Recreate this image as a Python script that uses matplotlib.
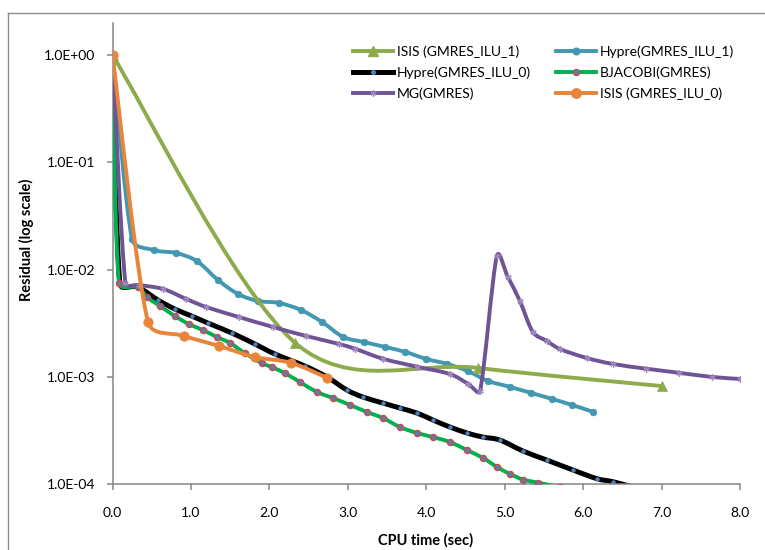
import numpy as np
import matplotlib
matplotlib.use("Agg")
import matplotlib.pyplot as plt
from matplotlib.path import Path
from matplotlib.patches import PathPatch
from matplotlib.lines import Line2D
from matplotlib.ticker import FixedLocator, FixedFormatter

plt.rcParams['font.family'] = ['Lato', 'DejaVu Sans']

# ---------------- data ----------------
isis1_x = [0.0, 2.33, 4.66, 7.0]
isis1_y = [1.0, 2.07e-3, 1.21e-3, 8.2e-4]

hypre1_x = [0.0, 0.249, 0.529, 0.810, 1.077, 1.345, 1.600, 1.855, 2.123, 2.403,
            2.671, 2.939, 3.206, 3.474, 3.729, 3.997, 4.265, 4.532, 4.787, 5.068,
            5.335, 5.603, 5.858, 6.126]
hypre1_y = [1.0, 0.0193, 0.0152, 0.0143, 0.0120, 0.0080, 0.00593, 0.00510, 0.00489, 0.00420,
            0.00325, 0.00236, 0.00211, 0.00190, 0.00171, 0.00147, 0.00132, 0.00113, 9.16e-4, 8.05e-4,
            7.08e-4, 6.22e-4, 5.47e-4, 4.71e-4]

hypre0_x = [0.0, 0.096, 0.325, 0.580, 0.797, 1.014, 1.218, 1.523, 1.817, 2.072,
            2.454, 2.735, 2.990, 3.194, 3.449, 3.665, 3.882, 4.086, 4.303, 4.520,
            4.724, 4.940, 5.234, 5.540, 5.871, 6.177, 6.381, 6.725]
hypre0_y = [1.0, 7.33e-3, 6.87e-3, 5.20e-3, 4.28e-3, 3.68e-3, 3.17e-3, 2.56e-3, 2.02e-3, 1.63e-3,
            1.26e-3, 9.95e-4, 7.52e-4, 6.47e-4, 5.69e-4, 5.11e-4, 4.59e-4, 3.95e-4, 3.40e-4, 2.99e-4,
            2.74e-4, 2.57e-4, 2.03e-4, 1.67e-4, 1.35e-4, 1.12e-4, 1.05e-4, 9.0e-5]

bjac_x = [0.0, 0.083, 0.325, 0.440, 0.606, 0.797, 0.975, 1.154, 1.332, 1.498,
          1.689, 1.906, 2.034, 2.199, 2.391, 2.607, 2.811, 3.028, 3.245, 3.449,
          3.665, 3.882, 4.086, 4.303, 4.520, 4.724, 4.903, 5.068, 5.234, 5.425, 5.705]
bjac_y = [1.0, 7.48e-3, 6.87e-3, 5.54e-3, 4.57e-3, 3.68e-3, 3.10e-3, 2.73e-3, 2.35e-3, 2.07e-3,
          1.66e-3, 1.34e-3, 1.23e-3, 1.08e-3, 8.93e-4, 7.21e-4, 6.34e-4, 5.46e-4, 4.69e-4, 4.12e-4,
          3.40e-4, 2.99e-4, 2.74e-4, 2.46e-4, 2.07e-4, 1.75e-4, 1.44e-4, 1.24e-4, 1.10e-4, 1.03e-4, 9.3e-5]

mg_x = [0.0, 0.165, 0.343, 0.648, 0.940, 1.194, 1.613, 2.044, 2.463, 2.883,
        3.098, 3.454, 3.886, 4.305, 4.533, 4.686, 4.90, 5.041, 5.194, 5.359,
        5.537, 5.702, 6.044, 6.375, 6.806, 7.225, 7.644, 8.0]
mg_y = [1.0, 7.5e-3, 7.18e-3, 6.59e-3, 5.32e-3, 4.48e-3, 3.61e-3, 2.92e-3, 2.41e-3, 2.03e-3,
        1.82e-3, 1.47e-3, 1.24e-3, 1.06e-3, 8.59e-4, 7.39e-4, 0.0134, 8.53e-3, 5.10e-3, 2.62e-3,
        2.16e-3, 1.82e-3, 1.50e-3, 1.32e-3, 1.19e-3, 1.09e-3, 9.97e-4, 9.55e-4]

isis0_x = [0.0, 0.453, 0.912, 1.358, 1.817, 2.276, 2.735]
isis0_y = [1.0, 3.25e-3, 2.41e-3, 1.94e-3, 1.53e-3, 1.35e-3, 9.8e-4]

xticks = [0, 1, 2, 3, 4, 5, 6, 7, 8]
xtick_labels = ['0.0', '1.0', '2.0', '3.0', '4.0', '5.0', '6.0', '7.0', '8.0']
yticks = [1.0, 0.1, 0.01, 0.001, 0.0001]
ytick_labels = ['1.0E+00', '1.0E-01', '1.0E-02', '1.0E-03', '1.0E-04']

labels = ['ISIS (GMRES_ILU_1)', 'Hypre(GMRES_ILU_1)', 'Hypre(GMRES_ILU_0)',
          'BJACOBI(GMRES)', 'MG(GMRES)', 'ISIS (GMRES_ILU_0)']

# ---------------- figure ----------------
W, H = 765, 550
fig = plt.figure(figsize=(W / 100, H / 100), dpi=100)
ax = fig.add_axes([112.5 / W, 1 - 484 / H, (740 - 112.5) / W, (484 - 23) / H])
ax.set_yscale('log')
ax.set_xlim(0, 8)
ax.set_ylim(1e-4, 2.0)

grey = '#868686'
for s in ['top', 'right']:
    ax.spines[s].set_visible(False)
for s in ['left', 'bottom']:
    ax.spines[s].set_color(grey)
    ax.spines[s].set_linewidth(1.1)

ax.xaxis.set_major_locator(FixedLocator(xticks))
ax.xaxis.set_major_formatter(FixedFormatter(xtick_labels))
ax.yaxis.set_major_locator(FixedLocator(yticks))
ax.yaxis.set_major_formatter(FixedFormatter(ytick_labels))
ax.yaxis.set_minor_locator(FixedLocator([]))
ax.tick_params(axis='both', which='major', direction='out', length=4.5, width=1.1,
               color=grey, labelsize=10, labelcolor='black')
ax.tick_params(axis='y', pad=8)
ax.tick_params(axis='x', pad=12)
ax.tick_params(which='minor', length=0)


def smooth(ax, x, y, color, lw, z):
    """Excel-like smoothed line: Catmull-Rom Bezier handles, clamped by segment length."""
    pts = ax.transData.transform(np.column_stack([x, y]))
    n = len(pts)
    hand = []
    for i in range(n):
        a = pts[i - 1] if i > 0 else pts[i]
        b = pts[i + 1] if i < n - 1 else pts[i]
        hand.append((b - a) / 6.0)
    verts = [pts[0]]
    codes = [Path.MOVETO]
    for i in range(n - 1):
        p1, p2 = pts[i], pts[i + 1]
        L = np.hypot(*(p2 - p1))
        h1 = hand[i]
        h2 = hand[i + 1]
        lim = 0.4 * L
        n1 = np.hypot(*h1)
        n2 = np.hypot(*h2)
        if n1 > lim:
            h1 = h1 * lim / n1
        if n2 > lim:
            h2 = h2 * lim / n2
        verts += [p1 + h1, p2 - h2, p2]
        codes += [Path.CURVE4] * 3
    vd = ax.transData.inverted().transform(np.array(verts))
    patch = PathPatch(Path(vd, codes), facecolor='none', edgecolor=color, lw=lw,
                      zorder=z, capstyle='round', joinstyle='round')
    ax.add_patch(patch)


c_isis1 = '#8DAB4B'
c_hyp1 = '#4198B0'
c_hyp0 = '#000000'
c_bj = '#00B050'
c_mg = '#6E5494'
c_isis0 = '#E8853A'

series = [
    (hypre0_x, hypre0_y, c_hyp0, 3.6, 2,
     dict(marker='o', ms=2.6, mfc='#4F81BD', mec='#4F81BD', mew=0.5)),
    (bjac_x, bjac_y, c_bj, 2.8, 3,
     dict(marker='o', ms=4.2, mfc='#4F81BD', mec='#C0504D', mew=1.2)),
    (hypre1_x, hypre1_y, c_hyp1, 2.8, 4,
     dict(marker='o', ms=4.8, mfc=c_hyp1, mec=c_hyp1, mew=0.5)),
    (isis1_x, isis1_y, c_isis1, 2.8, 5,
     dict(marker='^', ms=7.5, mfc=c_isis1, mec=c_isis1, mew=0.5)),
    (mg_x, mg_y, c_mg, 2.8, 6,
     dict(marker=(6, 2, 0), ms=4.5, mfc='#9F86BF', mec='#9F86BF', mew=0.9)),
    (isis0_x, isis0_y, c_isis0, 2.8, 7,
     dict(marker='o', ms=6.8, mfc=c_isis0, mec=c_isis0, mew=0.5)),
]

for x, y, col, lw, z, mk in series:
    smooth(ax, x, y, col, lw, z)
    ax.plot(x, y, linestyle='none', zorder=z + 0.5, **mk)

h = {}
h['ISIS (GMRES_ILU_1)'] = Line2D([], [], color=c_isis1, lw=2.8, marker='^', ms=7.5, mfc=c_isis1, mec=c_isis1)
h['Hypre(GMRES_ILU_1)'] = Line2D([], [], color=c_hyp1, lw=2.8, marker='o', ms=4.8, mfc=c_hyp1, mec=c_hyp1)
h['Hypre(GMRES_ILU_0)'] = Line2D([], [], color=c_hyp0, lw=3.6, marker='o', ms=2.6, mfc='#4F81BD', mec='#4F81BD')
h['BJACOBI(GMRES)'] = Line2D([], [], color=c_bj, lw=2.8, marker='o', ms=4.2, mfc='#4F81BD', mec='#C0504D', mew=1.2)
h['MG(GMRES)'] = Line2D([], [], color=c_mg, lw=2.8, marker=(6, 2, 0), ms=4.5, mfc='#9F86BF', mec='#9F86BF', mew=0.9)
h['ISIS (GMRES_ILU_0)'] = Line2D([], [], color=c_isis0, lw=2.8, marker='o', ms=6.8, mfc=c_isis0, mec=c_isis0)
order = [labels[0], labels[2], labels[4], labels[1], labels[3], labels[5]]
ax.legend([h[k] for k in order], order, ncol=2, frameon=False, fontsize=10,
          loc='upper left', bbox_to_anchor=(353 / W, 1 - 45 / H), bbox_transform=fig.transFigure,
          borderpad=0, borderaxespad=0, handlelength=2.9, handletextpad=0.25,
          columnspacing=1.8, labelspacing=0.62, numpoints=1)

fig.text(426 / W, 1 - 540 / H, 'CPU time (sec)', ha='center', va='center',
         fontsize=10.5, fontweight='bold')
fig.text(26 / W, 1 - 240 / H, 'Residual (log scale)', ha='center', va='center',
         rotation=90, fontsize=10.5, fontweight='bold')

fig.add_artist(Line2D([8 / W, 8 / W], [0, 1 - 12.5 / H], transform=fig.transFigure, color='#8C8C8C', lw=1.0))
fig.add_artist(Line2D([8 / W, 1], [1 - 12.5 / H, 1 - 12.5 / H], transform=fig.transFigure, color='#8C8C8C', lw=1.0))

fig.savefig('out.png', dpi=100)
